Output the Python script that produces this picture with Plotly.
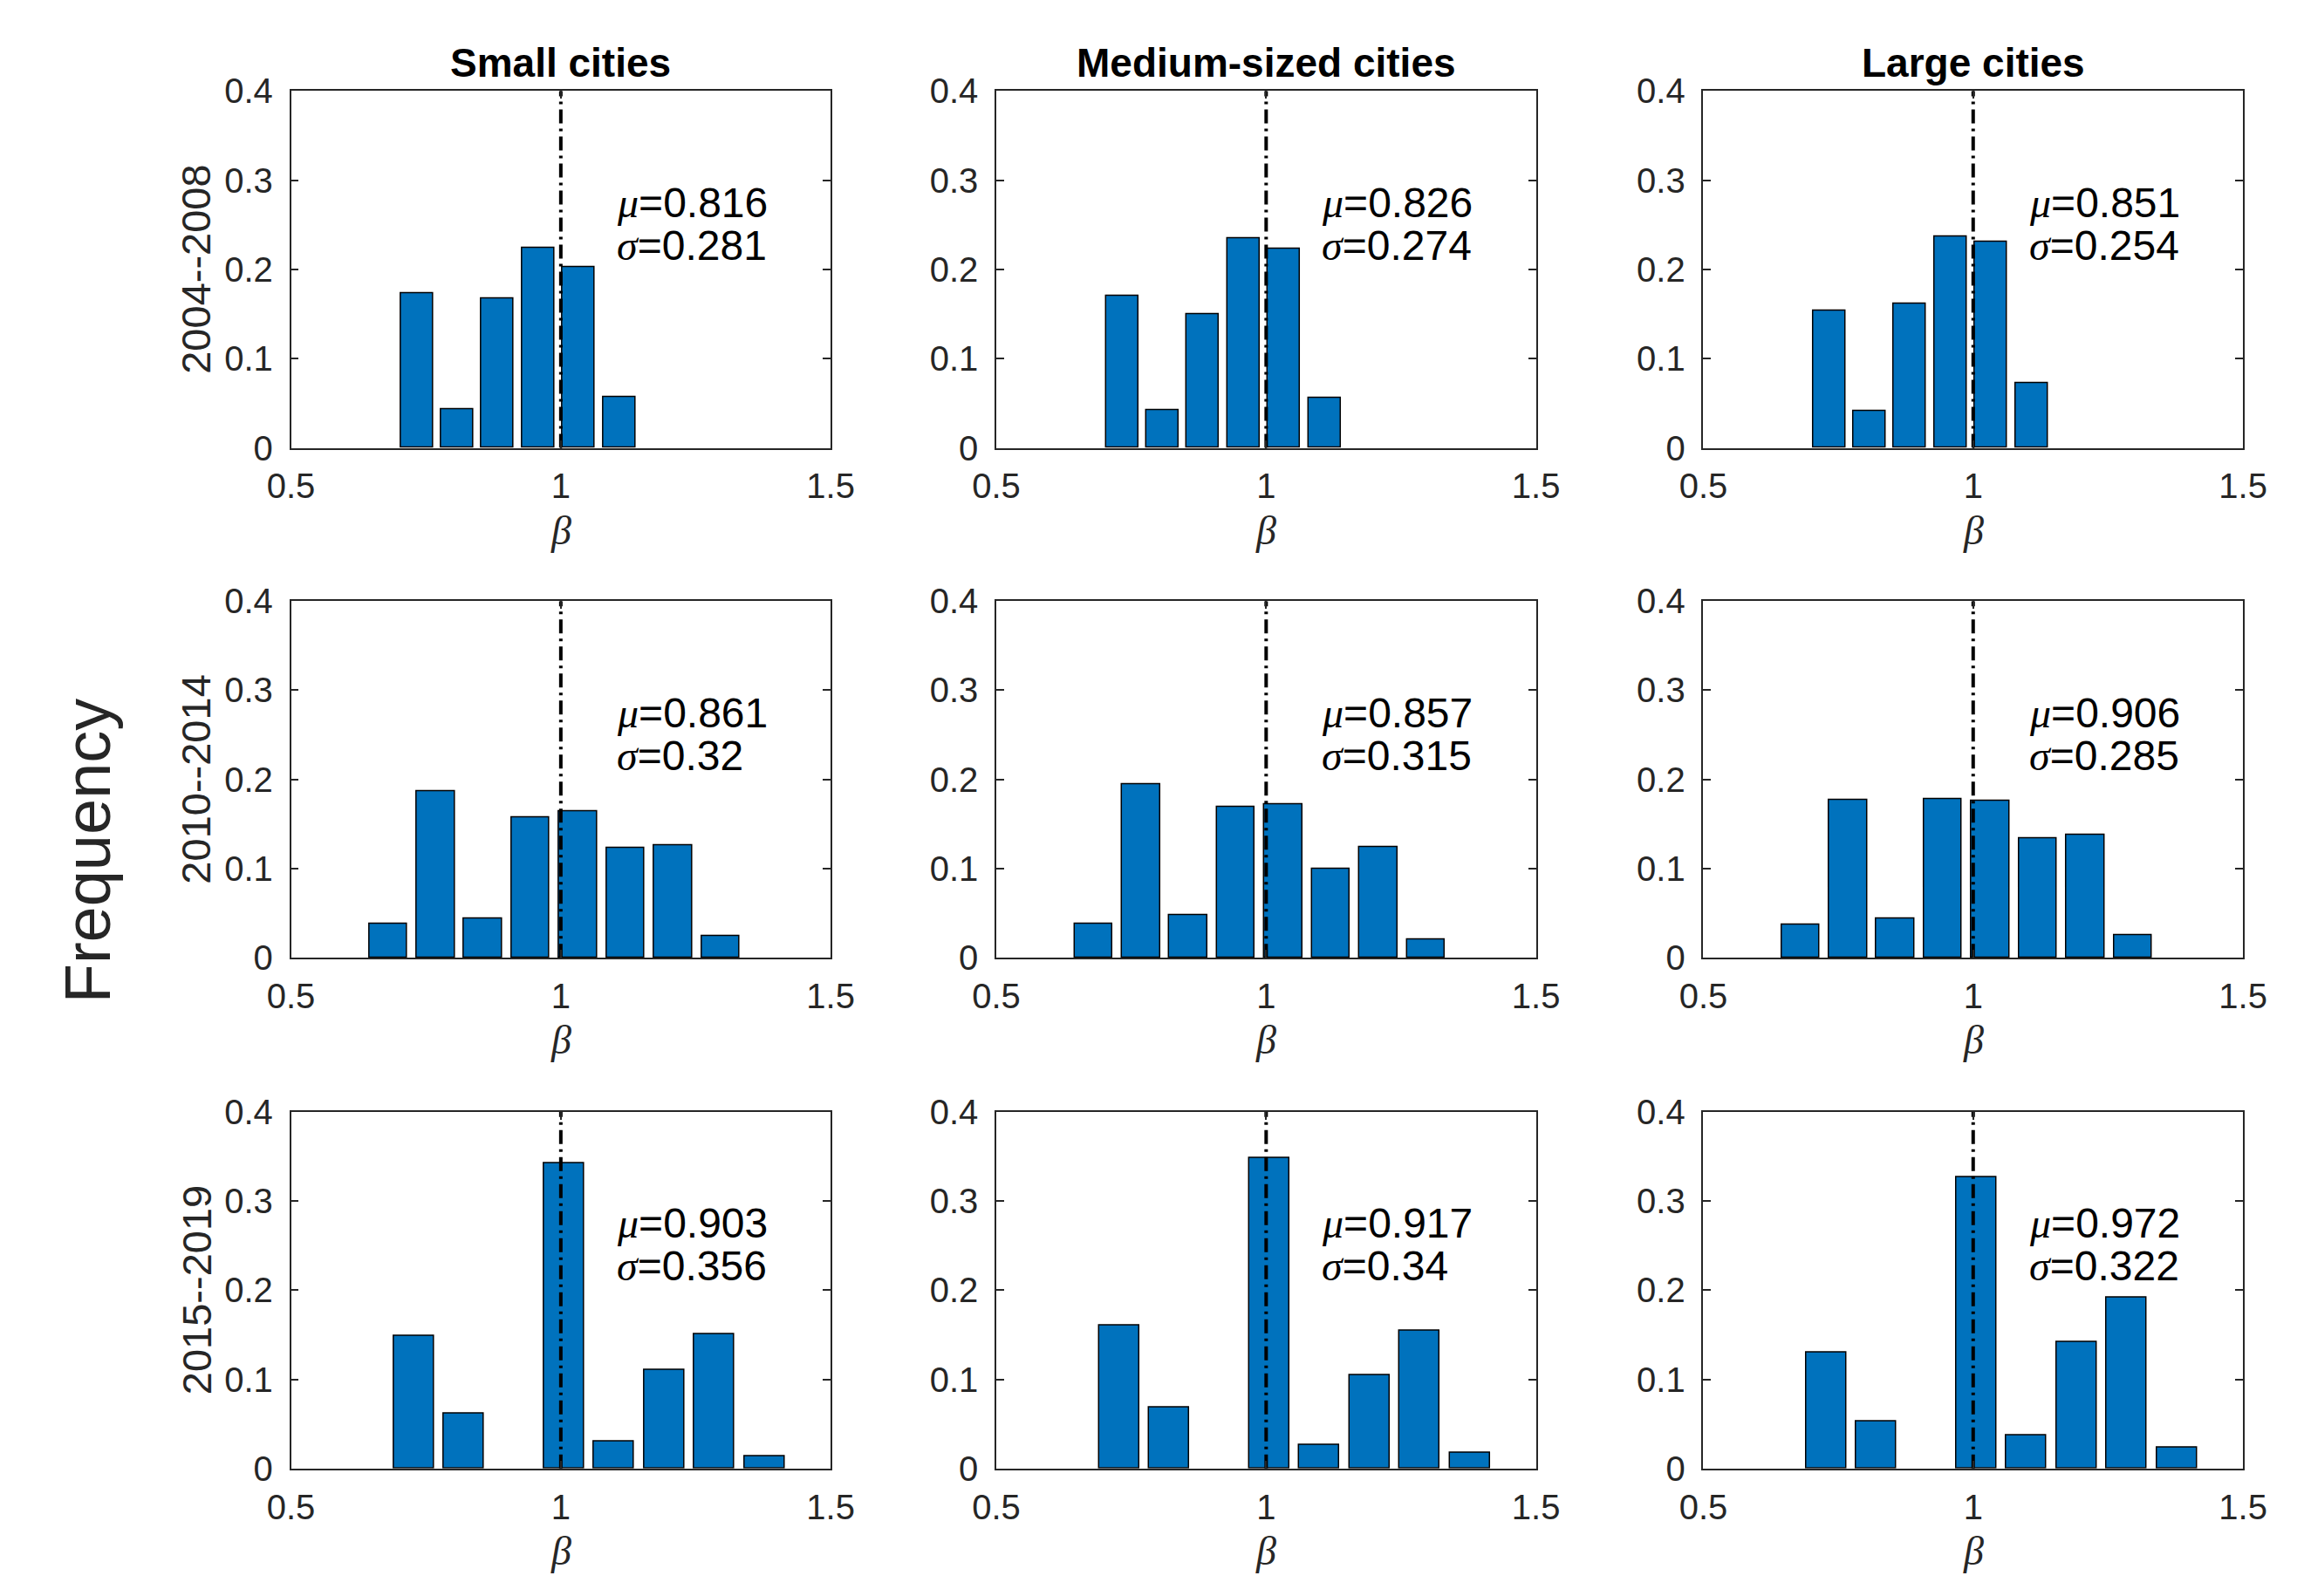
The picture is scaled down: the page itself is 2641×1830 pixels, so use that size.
import plotly.graph_objects as go
from plotly.subplots import make_subplots

# bin centres of beta for each period (one row per period)
bins_0408 = [0.733, 0.808, 0.883, 0.958, 1.033, 1.108]
bins_1014 = [0.680, 0.768, 0.856, 0.944, 1.032, 1.120, 1.208, 1.296]
bins_1519 = [0.7275, 0.8203, 0.9131, 1.0059, 1.0987, 1.1915, 1.2843, 1.3771]

# frequencies: small / medium-sized / large cities
small_0408 = [0.173, 0.043, 0.167, 0.224, 0.203, 0.057]
medium_0408 = [0.170, 0.042, 0.150, 0.235, 0.223, 0.056]
large_0408 = [0.154, 0.041, 0.162, 0.237, 0.231, 0.073]

small_1014 = [0.038, 0.187, 0.044, 0.157, 0.164, 0.123, 0.126, 0.024]
medium_1014 = [0.038, 0.195, 0.048, 0.169, 0.172, 0.100, 0.124, 0.020]
large_1014 = [0.037, 0.177, 0.044, 0.178, 0.176, 0.134, 0.138, 0.025]

small_1519 = [0.149, 0.062, 0.0, 0.342, 0.030, 0.110, 0.151, 0.014]
medium_1519 = [0.160, 0.068, 0.0, 0.348, 0.026, 0.105, 0.154, 0.018]
large_1519 = [0.130, 0.053, 0.0, 0.327, 0.037, 0.142, 0.192, 0.023]

mu = [[0.816, 0.826, 0.851], [0.861, 0.857, 0.906], [0.903, 0.917, 0.972]]
sigma = [["0.281", "0.274", "0.254"], ["0.32", "0.315", "0.285"], ["0.356", "0.34", "0.322"]]

col_titles = ["Small cities", "Medium-sized cities", "Large cities"]
periods = ["2004--2008", "2010--2014", "2015--2019"]
ref_beta = 1

bins = [bins_0408, bins_1014, bins_1519]
freqs = [[small_0408, medium_0408, large_0408],
         [small_1014, medium_1014, large_1014],
         [small_1519, medium_1519, large_1519]]

W, H = 2641, 1830
SANS = "Liberation Sans, Arial, Helvetica, sans-serif"
SERIF = "Liberation Serif, Times New Roman, serif"
AX = "#262626"

# plot-area boxes in pixels (left, right) and (top, bottom)
col_px = [(304, 936), (1130, 1762), (1958, 2590)]
row_px = [(76, 495.5), (675.5, 1094.5), (1275.5, 1694.5)]

fig = make_subplots(rows=3, cols=3)
annotations = []

for r in range(3):
    for c in range(3):
        n = r * 3 + c + 1
        xs = "" if n == 1 else str(n)
        # empty bins are left out so no outline shows on the baseline
        bx = [b for b, f in zip(bins[r], freqs[r][c]) if f > 0]
        by = [f for f in freqs[r][c] if f > 0]
        fig.add_trace(go.Bar(x=bx, y=by,
                             width=0.8 * (bins[r][1] - bins[r][0]),
                             marker=dict(color="#0072BD", line=dict(color="black", width=1.5)),
                             showlegend=False), row=r + 1, col=c + 1)
        fig.add_trace(go.Scatter(x=[ref_beta, ref_beta], y=[0, 0.4], mode="lines",
                                 line=dict(color="black", width=4, dash="16px,6px,3px,6px"),
                                 showlegend=False), row=r + 1, col=c + 1)
        fig.update_xaxes(domain=[col_px[c][0] / W, col_px[c][1] / W],
                         range=[0.5, 1.5], tickvals=[0.5, 1, 1.5],
                         row=r + 1, col=c + 1)
        fig.update_yaxes(domain=[1 - row_px[r][1] / H, 1 - row_px[r][0] / H],
                         range=[0, 0.4], tickvals=[0, 0.1, 0.2, 0.3, 0.4],
                         row=r + 1, col=c + 1)
        annotations.append(dict(
            xref="x" + xs, yref="y" + xs + " domain", x=1.10, y=0.687,
            xanchor="left", yanchor="middle", showarrow=False,
            text="<span style='font-family:Liberation Serif'><i>μ</i></span>=%.3f" % mu[r][c],
            font=dict(size=48, color="black", family=SANS)))
        annotations.append(dict(
            xref="x" + xs, yref="y" + xs + " domain", x=1.10, y=0.567,
            xanchor="left", yanchor="middle", showarrow=False,
            text="<span style='font-family:Liberation Serif'><i>σ</i></span>=" + sigma[r][c],
            font=dict(size=48, color="black", family=SANS)))
        annotations.append(dict(
            xref="x" + xs + " domain", yref="paper", x=0.5, y=1 - (row_px[r][1] + 97) / H,
            xanchor="center", yanchor="middle", showarrow=False,
            text="<i>β</i>", font=dict(size=46, color=AX, family=SERIF)))

for c in range(3):
    annotations.append(dict(
        xref="paper", yref="paper", x=(col_px[c][0] + col_px[c][1]) / 2 / W, y=1 - 43 / H,
        xanchor="center", yanchor="middle", showarrow=False,
        text="<b>" + col_titles[c] + "</b>", font=dict(size=46, color="black", family=SANS)))

for r in range(3):
    annotations.append(dict(
        xref="paper", yref="paper", x=193 / W, y=1 - (row_px[r][0] + row_px[r][1]) / 2 / H,
        xanchor="center", yanchor="middle", showarrow=False, textangle=-90,
        text=periods[r], font=dict(size=47, color=AX, family=SANS)))

annotations.append(dict(
    xref="paper", yref="paper", x=66 / W, y=1 - 969 / H,
    xanchor="center", yanchor="middle", showarrow=False, textangle=-90,
    text="Frequency", font=dict(size=74, color=AX, family=SANS)))

fig.update_xaxes(showline=True, mirror="ticks", linecolor=AX, linewidth=1.5,
                 ticks="inside", ticklen=9, tickwidth=1.5, tickcolor=AX,
                 showgrid=False, zeroline=False, ticklabelstandoff=8,
                 tickfont=dict(size=40, color=AX, family=SANS))
fig.update_yaxes(showline=True, mirror="ticks", linecolor=AX, linewidth=1.5,
                 ticks="inside", ticklen=9, tickwidth=1.5, tickcolor=AX,
                 showgrid=False, zeroline=False, ticklabelstandoff=11,
                 tickfont=dict(size=40, color=AX, family=SANS))

fig.update_layout(width=W, height=H, margin=dict(l=0, r=0, t=0, b=0),
                  plot_bgcolor="white", paper_bgcolor="white",
                  bargap=0, annotations=annotations)

fig.write_html("out.html")
